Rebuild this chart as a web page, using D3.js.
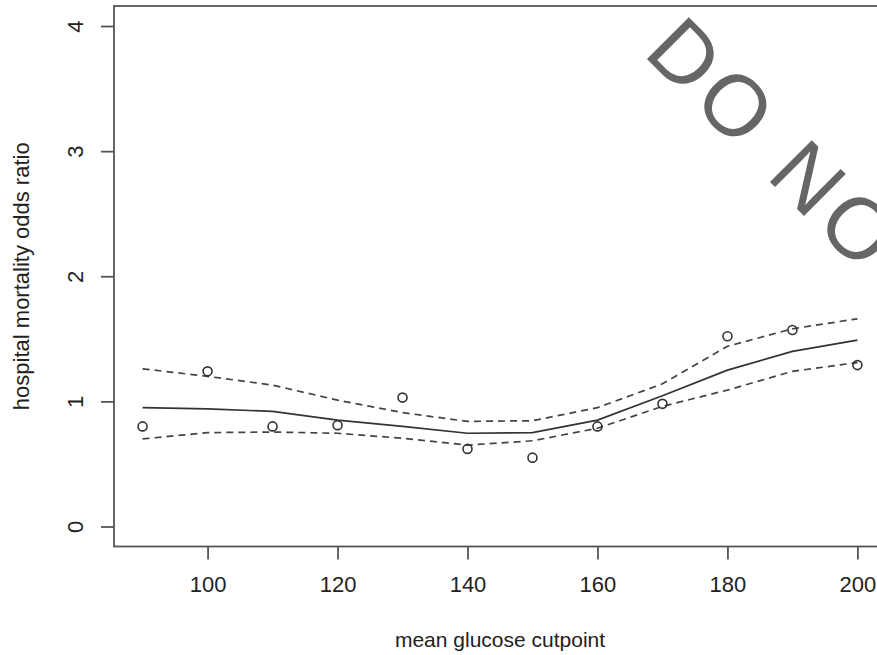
<!DOCTYPE html>
<html>
<head>
<meta charset="utf-8">
<title>Hospital mortality odds ratio by glucose cutpoint</title>
<script src="https://d3js.org/d3.v7.min.js"></script>
<style type="text/css">
html, body {
  margin: 0;
  padding: 0;
  background: #fff;
}

text {
  font-family: "Liberation Sans", Arial, sans-serif;
  fill: #222;
}

.fit {
  fill: none;
  stroke: #333;
  stroke-width: 1.7px;
}

.band {
  fill: none;
  stroke: #444;
  stroke-width: 1.7px;
  stroke-dasharray: 7 5;
}

.pts circle {
  fill: none;
  stroke: #333;
  stroke-width: 1.6px;
}
</style>
</head>
<body>
<svg id="chart" width="877" height="655"></svg>
<script>
// glucose cutpoints (mg/dl)
var cutpoints = [90, 100, 110, 120, 130, 140, 150, 160, 170, 180, 190, 200];
// observed odds ratios (circles)
var observed = [0.80, 1.24, 0.80, 0.81, 1.03, 0.62, 0.55, 0.80, 0.98, 1.52, 1.57, 1.29];
// smoothed fit (solid) and its band (dashed)
var fitted = [0.95, 0.94, 0.92, 0.85, 0.80, 0.745, 0.75, 0.85, 1.045, 1.25, 1.40, 1.49];
var upper = [1.26, 1.20, 1.13, 1.01, 0.91, 0.84, 0.845, 0.95, 1.14, 1.44, 1.58, 1.66];
var lower = [0.70, 0.75, 0.755, 0.745, 0.705, 0.65, 0.685, 0.785, 0.96, 1.09, 1.24, 1.31];

var xTicks = [100, 120, 140, 160, 180, 200];
var yTicks = [0, 1, 2, 3, 4];

var svg = d3.select("#chart");

// R pads the range by 4% on each side
var x = d3.scaleLinear().domain([85.6, 204.4]).range([114, 886]);
var y = d3.scaleLinear().domain([-0.16, 4.16]).range([546.5, 6]);

// plot box (right side runs off the picture)
svg.append("rect")
  .attr("x", x.range()[0])
  .attr("y", y.range()[1])
  .attr("width", x.range()[1] - x.range()[0])
  .attr("height", y.range()[0] - y.range()[1])
  .attr("fill", "none")
  .attr("stroke", "#555")
  .attr("stroke-width", 1.8);

// axes
var xAxis = svg.append("g")
  .attr("transform", "translate(0," + y.range()[0] + ")")
  .call(d3.axisBottom(x).tickValues(xTicks).tickSize(13).tickPadding(17).tickFormat(d3.format("d")));
xAxis.select(".domain").remove();
xAxis.selectAll("line").attr("stroke", "#555").attr("stroke-width", 1.8);
xAxis.selectAll("text").attr("font-size", 22).attr("fill", "#222");

var yAxis = svg.append("g")
  .attr("transform", "translate(" + x.range()[0] + ",0)")
  .call(d3.axisLeft(y).tickValues(yTicks).tickSize(13).tickFormat(d3.format("d")));
yAxis.select(".domain").remove();
yAxis.selectAll("line").attr("stroke", "#555").attr("stroke-width", 1.8);
yAxis.selectAll("text")
  .attr("font-size", 22)
  .attr("fill", "#222")
  .attr("transform", "rotate(-90)")
  .attr("text-anchor", "middle")
  .attr("x", 0)
  .attr("y", -31)
  .attr("dy", 0);

// axis titles
svg.append("text")
  .attr("x", (x.range()[0] + x.range()[1]) / 2)
  .attr("y", 647)
  .attr("text-anchor", "middle")
  .attr("font-size", 21)
  .text("mean glucose cutpoint");

svg.append("text")
  .attr("transform", "translate(29," + (y.range()[0] + y.range()[1]) / 2 + ") rotate(-90)")
  .attr("text-anchor", "middle")
  .attr("font-size", 22)
  .text("hospital mortality odds ratio");

// lines
function series(vals) {
  return cutpoints.map(function (c, i) { return [c, vals[i]]; });
}
var line = d3.line()
  .x(function (d) { return x(d[0]); })
  .y(function (d) { return y(d[1]); });

svg.append("path").attr("class", "band").attr("d", line(series(upper)));
svg.append("path").attr("class", "band").attr("d", line(series(lower)));
svg.append("path").attr("class", "fit").attr("d", line(series(fitted)));

svg.append("g")
  .attr("class", "pts")
  .selectAll("circle")
  .data(series(observed))
  .enter().append("circle")
    .attr("cx", function (d) { return x(d[0]); })
    .attr("cy", function (d) { return y(d[1]); })
    .attr("r", 4.5);

// watermark
svg.append("text")
  .attr("transform", "translate(642,54) rotate(45)")
  .attr("font-size", 86)
  .attr("letter-spacing", 7)
  .style("fill", "#666")
  .text("DO NOT COPY");
</script>
</body>
</html>
